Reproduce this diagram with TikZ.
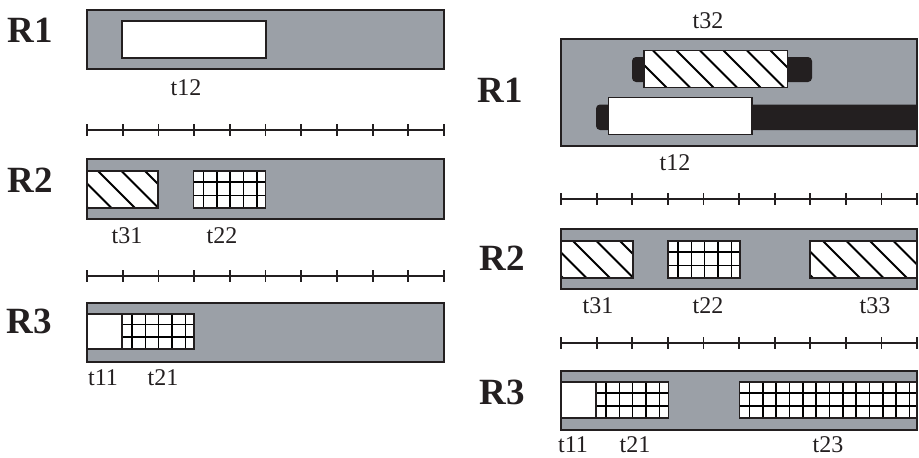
\documentclass[tikz,border=0pt]{standalone}
\usepackage{fontspec}
\setmainfont{Liberation Serif}
\definecolor{bargray}{RGB}{155,160,167}
\definecolor{ink}{RGB}{35,31,32}
\newcommand\hatchbox[5]{% x1 y1 x2 y2 firsttop
  \fill[white] (#1,#2) rectangle (#3,#4);
  \begin{scope}
    \clip (#1,#2) rectangle (#3,#4);
    \foreach \k in {-3,...,10}
      \draw[hatchline] ({#5+\k*23.5},#2) -- ++({#4-#2},{#4-#2});
  \end{scope}
  \draw[boxline] (#1,#2) rectangle (#3,#4);
}
\newcommand\gridbox[4]{% x1 y1 x2 y2
  \fill[white] (#1,#2) rectangle (#3,#4);
  \begin{scope}
    \clip (#1,#2) rectangle (#3,#4);
    \foreach \k in {0,...,13}
      \draw[gridline] ({#1+10+\k*13.33},#2) -- ++(0,{#4-#2});
    \draw[gridline] (#1,{#2+(#4-#2)*0.3}) -- (#3,{#2+(#4-#2)*0.3});
    \draw[gridline] (#1,{#2+(#4-#2)*0.66}) -- (#3,{#2+(#4-#2)*0.66});
  \end{scope}
  \draw[boxline] (#1,#2) rectangle (#3,#4);
}
\newcommand\tickaxis[3]{% x1 x2 y
  \draw[axisline] (#1,#3) -- (#2,#3);
  \foreach \k in {0,...,10}
    \draw[axisline] ({#1+\k*(#2-#1)/10},#3-6) -- ++(0,12);
}
\begin{document}
\begin{tikzpicture}[x=1pt,y=-1pt,
  bar/.style={fill=bargray, draw=ink, line width=1.8pt},
  boxline/.style={draw=ink, line width=1.8pt},
  hatchline/.style={draw=black, line width=1.8pt},
  gridline/.style={draw=black, line width=1.5pt},
  axisline/.style={draw=ink, line width=1.8pt},
  blackbar/.style={fill=ink, draw=none, rounded corners=4pt},
  rlabel/.style={font=\fontsize{37}{37}\selectfont\bfseries, text=ink, inner sep=0pt},
  tlabel/.style={font=\fontsize{24}{24}\selectfont, text=ink, inner sep=0pt}]
\useasboundingbox (0,0) rectangle (919,458);

% ---------------- left panel ----------------
\node[rlabel] (lR1) at (30,30) {R1};
\draw[bar] (87,10) rectangle (444,69);
\fill[white] (122,21) rectangle (266,58);
\draw[boxline] (122,21) rectangle (266,58);
\node[tlabel] (lt12) at (186,88) {t12};
\tickaxis{87}{444}{130}

\node[rlabel] (lR2) at (30,180) {R2};
\draw[bar] (87,159) rectangle (444,219);
\hatchbox{87}{171}{158}{208}{98}
\gridbox{193.5}{171}{265.5}{208}
\node[tlabel] (lt31) at (127,236) {t31};
\node[tlabel] (lt22) at (222,236) {t22};
\tickaxis{87}{444}{276}

\node[rlabel] (lR3) at (29,321) {R3};
\draw[bar] (87,303) rectangle (444,362);
\fill[white] (87,314) rectangle (122,349);
\draw[boxline] (87,314) rectangle (122,349);
\gridbox{122}{314}{194}{349}
\node[tlabel] (lt11) at (103,378) {t11};
\node[tlabel] (lt21) at (163,378) {t21};

% ---------------- right panel ----------------
\node[tlabel] (rt32) at (708,21) {t32};
\node[rlabel] (rR1) at (500,90) {R1};
\draw[bar] (561,39) rectangle (917,146);
\fill[blackbar] (632,57) rectangle (812,82);
\hatchbox{644}{50.5}{787.5}{87.5}{653}
\begin{scope}
  \clip (561,39) rectangle (917,146);
  \fill[blackbar] (596,104.5) rectangle (930,130);
\end{scope}
\draw[boxline] (561,39) rectangle (917,146);
\fill[white] (608.5,97.5) rectangle (752,134.5);
\draw[boxline] (608.5,97.5) rectangle (752,134.5);
\node[tlabel] (rt12) at (675,163) {t12};
\tickaxis{561}{917}{199}

\node[rlabel] (rR2) at (502,258) {R2};
\draw[bar] (561,229) rectangle (917,289);
\hatchbox{561}{241}{633}{278}{573}
\gridbox{668}{241}{740}{278}
\hatchbox{810}{241}{917}{278}{823}
\node[tlabel] (rt31) at (598,306) {t31};
\node[tlabel] (rt22) at (708,306) {t22};
\node[tlabel] (rt33) at (875,306) {t33};
\tickaxis{561}{917}{343}

\node[rlabel] (rR3) at (502,392) {R3};
\draw[bar] (561,371) rectangle (917,430);
\fill[white] (561,382) rectangle (596,418);
\draw[boxline] (561,382) rectangle (596,418);
\gridbox{596}{382}{668.5}{418}
\begin{scope}
  \clip (561,371) rectangle (917,430);
  \gridbox{739.5}{382}{922}{418}
\end{scope}
\draw[boxline] (561,371) rectangle (917,430);
\node[tlabel] (rt11) at (573,445) {t11};
\node[tlabel] (rt21) at (635,445) {t21};
\node[tlabel] (rt23) at (828,445) {t23};
\end{tikzpicture}
\end{document}
